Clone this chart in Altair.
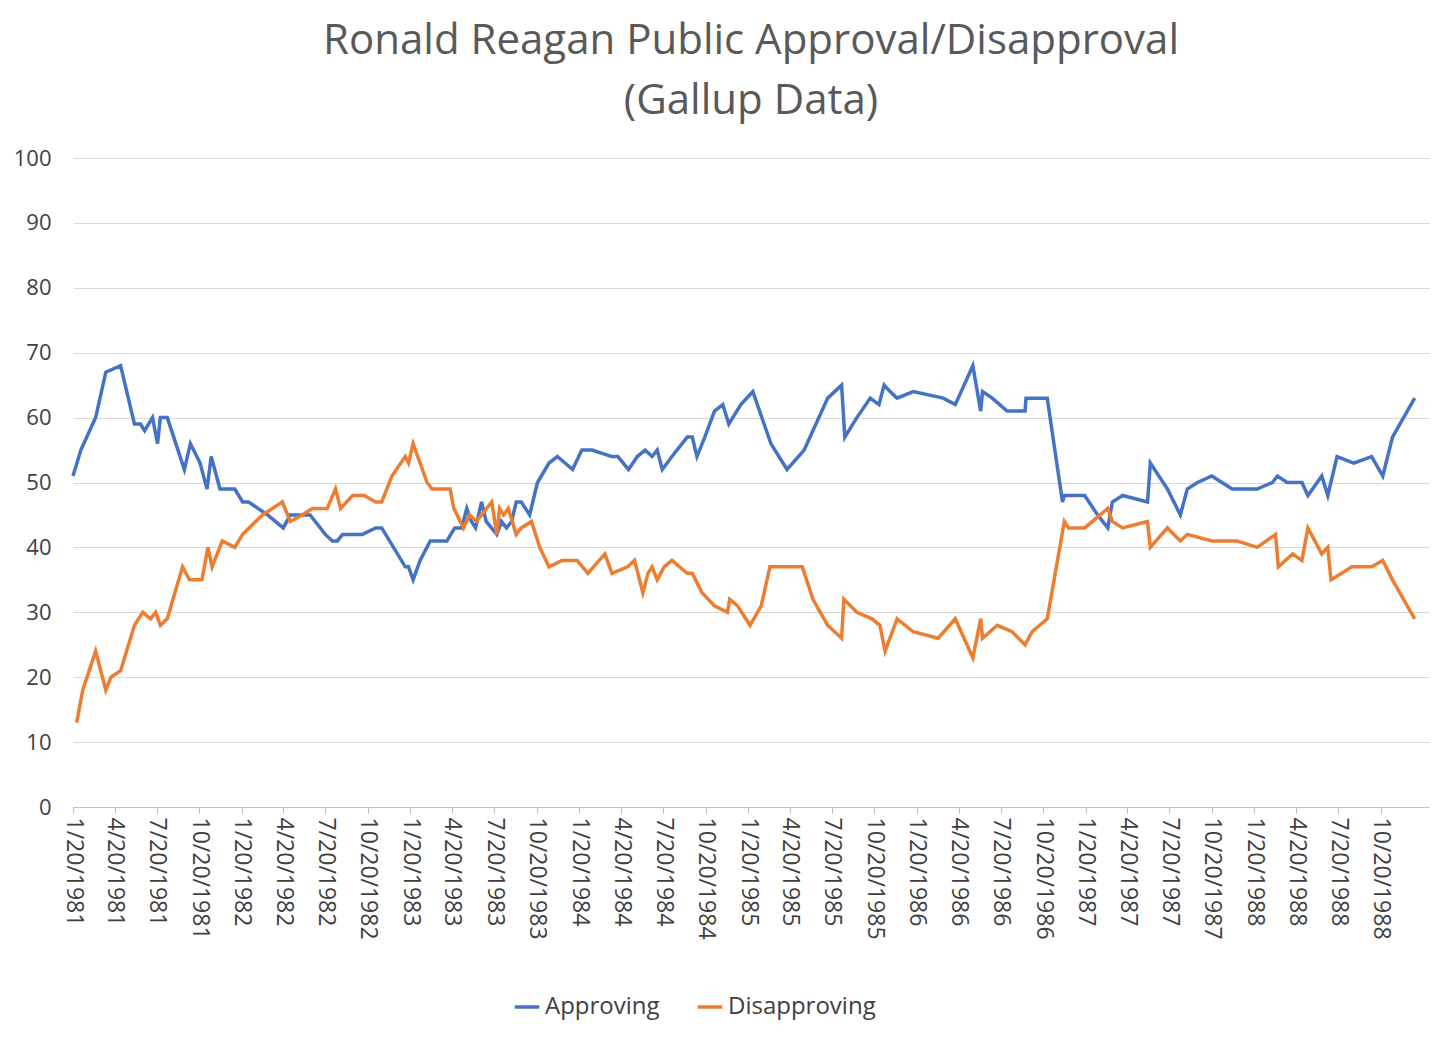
import altair as alt
import pandas as pd

approve_dates = [
    "1981-01-20", "1981-02-06", "1981-03-10", "1981-04-01", "1981-05-03", "1981-06-02",
    "1981-06-15", "1981-06-24", "1981-07-11", "1981-07-22", "1981-07-28", "1981-08-12",
    "1981-09-18", "1981-10-01", "1981-10-22", "1981-11-06", "1981-11-15", "1981-12-04",
    "1982-01-05", "1982-01-22", "1982-02-04", "1982-03-17", "1982-04-20", "1982-05-05",
    "1982-06-17", "1982-07-20", "1982-08-04", "1982-08-15", "1982-08-26", "1982-10-08",
    "1982-11-06", "1982-11-19", "1983-01-09", "1983-01-16", "1983-01-26", "1983-02-10",
    "1983-03-04", "1983-04-09", "1983-04-26", "1983-05-11", "1983-05-22", "1983-06-01",
    "1983-06-10", "1983-06-23", "1983-07-03", "1983-07-26", "1983-08-05", "1983-08-16",
    "1983-08-27", "1983-09-06", "1983-09-17", "1983-10-05", "1983-10-22", "1983-11-16",
    "1983-12-04", "1984-01-06", "1984-01-26", "1984-02-17", "1984-03-31", "1984-04-13",
    "1984-05-06", "1984-05-25", "1984-06-11", "1984-06-26", "1984-07-07", "1984-07-18",
    "1984-08-08", "1984-09-10", "1984-09-21", "1984-10-01", "1984-10-18", "1984-11-08",
    "1984-11-26", "1984-12-09", "1985-01-04", "1985-01-30", "1985-03-10", "1985-04-14",
    "1985-05-21", "1985-07-11", "1985-08-10", "1985-08-17", "1985-09-12", "1985-10-11",
    "1985-10-30", "1985-11-10", "1985-11-23", "1985-12-08", "1986-01-12", "1986-03-18",
    "1986-04-13", "1986-05-21", "1986-06-07", "1986-06-11", "1986-07-02", "1986-08-03",
    "1986-09-11", "1986-09-13", "1986-10-29", "1986-12-01", "1986-12-05", "1987-01-18",
    "1987-02-15", "1987-03-09", "1987-03-19", "1987-04-10", "1987-06-03", "1987-06-09",
    "1987-07-16", "1987-08-13", "1987-08-28", "1987-09-19", "1987-10-20", "1987-12-03",
    "1988-01-26", "1988-02-28", "1988-03-10", "1988-03-31", "1988-05-02", "1988-05-15",
    "1988-06-14", "1988-06-27", "1988-07-17", "1988-08-22", "1988-09-30", "1988-10-24",
    "1988-11-14", "1989-01-01",
]
approve_vals = [
    51, 55, 60, 67, 68, 59, 59, 58, 60, 56, 60, 60, 52, 56, 53, 49, 54, 49,
    49, 47, 47, 45, 43, 45, 45, 42, 41, 41, 42, 42, 43, 43, 37, 37, 35, 38,
    41, 41, 43, 43, 46, 44, 43, 47, 44, 42, 44, 43, 44, 47, 47, 45, 50, 53,
    54, 52, 55, 55, 54, 54, 52, 54, 55, 54, 55, 52, 54, 57, 57, 54, 57, 61,
    62, 59, 62, 64, 56, 52, 55, 63, 65, 57, 60, 63, 62, 65, 64, 63, 64, 63,
    62, 68, 61, 64, 63, 61, 61, 63, 63, 47, 48, 48, 45, 43, 47, 48, 47, 53,
    49, 45, 49, 50, 51, 49, 49, 50, 51, 50, 50, 48, 51, 48, 54, 53, 54, 51,
    57, 63,
]

disapprove_dates = [
    "1981-01-28", "1981-02-10", "1981-03-10", "1981-04-01", "1981-04-12", "1981-05-03",
    "1981-06-02", "1981-06-20", "1981-07-07", "1981-07-18", "1981-07-28", "1981-08-12",
    "1981-09-14", "1981-09-29", "1981-10-26", "1981-11-08", "1981-11-17", "1981-12-09",
    "1982-01-05", "1982-01-22", "1982-03-06", "1982-04-18", "1982-05-05", "1982-05-31",
    "1982-06-22", "1982-07-24", "1982-08-11", "1982-08-22", "1982-09-17", "1982-10-12",
    "1982-11-06", "1982-11-19", "1982-12-11", "1983-01-09", "1983-01-16", "1983-01-26",
    "1983-02-10", "1983-02-25", "1983-03-08", "1983-04-16", "1983-04-24", "1983-05-15",
    "1983-05-28", "1983-06-12", "1983-06-23", "1983-07-15", "1983-07-26", "1983-08-01",
    "1983-08-10", "1983-08-20", "1983-09-06", "1983-09-17", "1983-10-09", "1983-10-27",
    "1983-11-16", "1983-12-14", "1984-01-16", "1984-02-08", "1984-03-16", "1984-03-31",
    "1984-05-04", "1984-05-19", "1984-06-06", "1984-06-17", "1984-06-26", "1984-07-07",
    "1984-07-22", "1984-08-08", "1984-09-10", "1984-09-21", "1984-10-12", "1984-11-08",
    "1984-12-06", "1984-12-11", "1984-12-28", "1985-01-24", "1985-02-17", "1985-03-08",
    "1985-05-17", "1985-06-09", "1985-07-11", "1985-08-10", "1985-08-15", "1985-09-12",
    "1985-10-15", "1985-11-01", "1985-11-12", "1985-12-08", "1986-01-12", "1986-03-07",
    "1986-04-13", "1986-05-21", "1986-06-07", "1986-06-11", "1986-07-13", "1986-08-14",
    "1986-09-11", "1986-09-26", "1986-10-29", "1986-12-05", "1986-12-14", "1987-01-18",
    "1987-03-09", "1987-03-19", "1987-04-10", "1987-06-03", "1987-06-09", "1987-07-16",
    "1987-08-13", "1987-08-28", "1987-10-20", "1987-12-14", "1988-01-26", "1988-03-06",
    "1988-03-12", "1988-04-12", "1988-05-02", "1988-05-15", "1988-06-14", "1988-06-27",
    "1988-07-04", "1988-07-27", "1988-08-18", "1988-09-30", "1988-10-24", "1988-11-14",
    "1989-01-01",
]
disapprove_vals = [
    13, 18, 24, 18, 20, 21, 28, 30, 29, 30, 28, 29, 37, 35, 35, 40, 37, 41,
    40, 42, 45, 47, 44, 45, 46, 46, 49, 46, 48, 48, 47, 47, 51, 54, 53, 56,
    53, 50, 49, 49, 46, 43, 45, 44, 45, 47, 42, 46, 45, 46, 42, 43, 44, 40,
    37, 38, 38, 36, 39, 36, 37, 38, 33, 36, 37, 35, 37, 38, 36, 36, 33, 31,
    30, 32, 31, 28, 31, 37, 37, 32, 28, 26, 32, 30, 29, 28, 24, 29, 27, 26,
    29, 23, 29, 26, 28, 27, 25, 27, 29, 44, 43, 43, 46, 44, 43, 44, 40, 43,
    41, 42, 41, 41, 40, 42, 37, 39, 38, 43, 39, 40, 35, 36, 37, 37, 38, 35,
    29,
]

df = pd.concat([
    pd.DataFrame({"date": approve_dates, "value": approve_vals, "series": "Approving"}),
    pd.DataFrame({"date": disapprove_dates, "value": disapprove_vals, "series": "Disapproving"}),
])

ticks = []
for year in range(1981, 1989):
    for month in (1, 4, 7, 10):
        ticks.append(alt.DateTime(year=year, month=month, date=20))

font = "Open Sans"

chart = alt.Chart(df).mark_line(strokeWidth=3.5).encode(
    alt.X("date:T")
    .scale(domain=[alt.DateTime(year=1981, month=1, date=20), alt.DateTime(year=1989, month=2, date=1)])
    .axis(
        values=ticks,
        labelExpr="timeFormat(datum.value, '%-m/%-d/%Y')",
        labelAngle=90,
        labelAlign="left",
        labelBaseline="middle",
        labelFontSize=23,
        labelColor="#404040",
        labelPadding=4,
        grid=False,
        domainColor="#bfbfbf",
        tickColor="#bfbfbf",
        tickSize=6,
        labelOverlap=False,
    )
    .title(None),
    alt.Y("value:Q")
    .scale(domain=[0, 100])
    .axis(
        values=list(range(0, 101, 10)),
        labelFontSize=22,
        labelColor="#404040",
        gridColor="#d9d9d9",
        domain=False,
        ticks=False,
        labelPadding=22,
    )
    .title(None),
    alt.Color("series:N")
    .scale(domain=["Approving", "Disapproving"], range=["#4472C4", "#ED7D31"])
    .legend(
        orient="none",
        legendX=440,
        legendY=835,
        direction="horizontal",
        title=None,
        symbolType="stroke",
        symbolStrokeWidth=3.5,
        symbolSize=600,
        labelFontSize=24,
        labelColor="#404040",
        columnPadding=30,
    ),
).properties(
    width=1356,
    height=649,
    padding={"top": 12, "left": 5, "right": 5, "bottom": 5},
    title=alt.Title(
        ["Ronald Reagan Public Approval/Disapproval", "(Gallup Data)"],
        fontSize=42,
        fontWeight="normal",
        color="#595959",
        font=font,
        lineHeight=60,
        anchor="middle",
        offset=24,
    ),
).configure(font=font).configure_view(stroke=None)

chart.save("out.html", embed_options={"renderer": "svg", "actions": False})
